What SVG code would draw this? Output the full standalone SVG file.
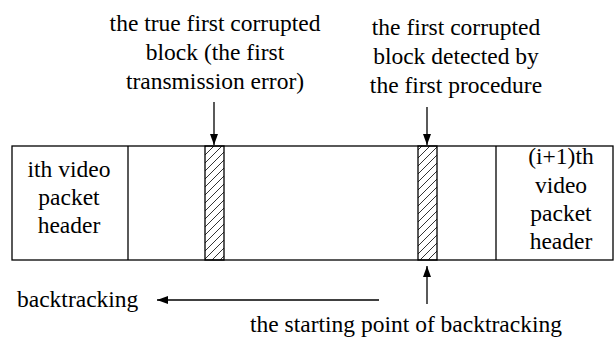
<svg xmlns="http://www.w3.org/2000/svg" width="615" height="338" viewBox="0 0 615 338">
<style>
.ln{stroke:#000;stroke-width:1.3;fill:none}
.hatch{fill:url(#h);stroke:#000;stroke-width:1.3}
</style>
<defs>
<pattern id="h" patternUnits="userSpaceOnUse" width="8" height="8">
<path d="M-2,2 L2,-2 M0,8 L8,0 M6,10 L10,6" stroke="#000" stroke-width="0.8"/>
</pattern>
<marker id="a" markerWidth="12" markerHeight="10" refX="11" refY="5" orient="auto" markerUnits="userSpaceOnUse">
<path d="M0,1 L11,5 L0,9 Z" fill="#000"/>
</marker>
</defs>
<rect fill="#fff" width="615" height="338"/>
<g id="packet">
<rect class="ln" x="12" y="146" width="601" height="114"/>
<line class="ln" x1="128" y1="146" x2="128" y2="260"/>
<line class="ln" x1="496" y1="146" x2="496" y2="260"/>
</g>
<g id="block1"><rect class="hatch" x="205" y="146" width="19" height="114"/></g>
<g id="block2"><rect class="hatch" x="418" y="146" width="19" height="114"/></g>
<g font-family="Liberation Serif, DejaVu Serif, Times New Roman, serif" font-size="23.5" fill="#000">
<g id="header_i" text-anchor="middle">
<text x="69" y="177">ith video</text>
<text x="69" y="205">packet</text>
<text x="69" y="233">header</text>
</g>
<g id="header_i1" text-anchor="middle">
<text x="561" y="164">(i+1)th</text>
<text x="561" y="193">video</text>
<text x="561" y="221">packet</text>
<text x="561" y="249">header</text>
</g>
<g id="label_true" text-anchor="middle">
<text x="215" y="31">the true first corrupted</text>
<text x="215" y="60">block (the first</text>
<text x="215" y="89">transmission error)</text>
</g>
<g id="label_detected" text-anchor="middle">
<text x="456" y="35">the first corrupted</text>
<text x="456" y="64">block detected by</text>
<text x="456" y="93">the first procedure</text>
</g>
<g id="label_backtracking"><text x="17" y="307">backtracking</text></g>
<g id="label_start"><text x="250" y="332">the starting point of backtracking</text></g>
</g>
<g id="connectors">
<line class="ln" x1="214" y1="102" x2="214" y2="145" marker-end="url(#a)"/>
<line class="ln" x1="427" y1="107" x2="427" y2="145" marker-end="url(#a)"/>
<line class="ln" x1="427" y1="304" x2="427" y2="266" marker-end="url(#a)"/>
<line class="ln" x1="379" y1="300" x2="157" y2="300" marker-end="url(#a)"/>
</g>
</svg>
